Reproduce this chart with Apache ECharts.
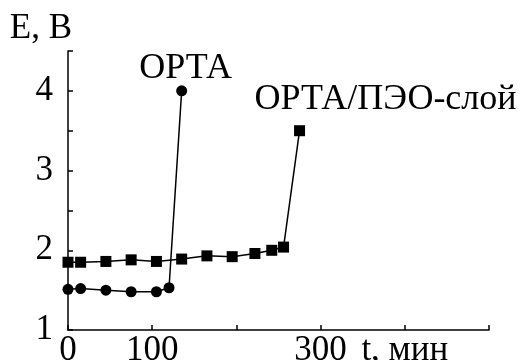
<!DOCTYPE html>
<html>
<head>
<meta charset="utf-8">
<script src="https://cdn.jsdelivr.net/npm/echarts@6/dist/echarts.min.js"></script>
<style>
  html, body { margin: 0; padding: 0; background: #fff; }
  #chart { width: 526px; height: 360px; }
</style>
</head>
<body>
<div id="chart"></div>
<script>
// Potential E (V) versus time t (min) for two electrodes
const ortaTime = [0, 15, 45, 75, 105, 120, 135];
const ortaE = [1.51, 1.52, 1.50, 1.48, 1.48, 1.53, 4.0];

const peoTime = [0, 15, 45, 75, 105, 135, 165, 195, 222, 242, 256, 275];
const peoE = [1.85, 1.85, 1.86, 1.88, 1.86, 1.89, 1.93, 1.92, 1.96, 2.0, 2.04, 3.5];

const xTickLabels = ['0', '100', '', '300', 't, мин', ''];
const yTickLabels = { 1: '1', 2: '2', 3: '3', 4: '4' };

const seriesNames = ['ОРТА', 'ОРТА/ПЭО-слой'];

const FONT = "'Liberation Serif', 'Times New Roman', serif";
const INK = '#000';

function pairs(xs, ys) {
  return xs.map((x, i) => [x, ys[i]]);
}

// put the series caption on the final (breakdown) point
function withEndLabel(data, text, offset) {
  const last = data.length - 1;
  return data.map((d, i) => i === last ? {
    value: d,
    label: {
      show: true,
      position: 'top',
      offset: offset,
      formatter: text,
      fontFamily: FONT,
      fontSize: 36,
      color: INK
    }
  } : d);
}

const chart = echarts.init(document.getElementById('chart'), null, { renderer: 'canvas' });

chart.setOption({
  animation: false,
  backgroundColor: '#fff',
  grid: {
    left: 68, right: 37, top: 51, bottom: 30,
    containLabel: false,
    outerBoundsMode: 'none'
  },
  xAxis: {
    type: 'value',
    min: 0,
    max: 500,
    interval: 100,
    axisLine: { lineStyle: { color: INK, width: 1.5 } },
    axisTick: { inside: true, length: 5, lineStyle: { color: INK, width: 1.5 } },
    splitLine: { show: false },
    axisLabel: {
      margin: 3,
      fontFamily: FONT,
      fontSize: 35,
      color: INK,
      showMaxLabel: true,
      formatter: (v) => xTickLabels[Math.round(v / 100)] ?? ''
    }
  },
  yAxis: {
    type: 'value',
    min: 1,
    max: 4.5,
    interval: 0.5,
    name: 'E, В',
    nameLocation: 'end',
    nameGap: 22,
    nameTextStyle: {
      fontFamily: FONT,
      fontSize: 35,
      color: INK,
      align: 'right',
      verticalAlign: 'middle',
      padding: [0, -4, 0, 0]
    },
    axisLine: { lineStyle: { color: INK, width: 1.5 } },
    axisTick: { inside: true, length: 5, lineStyle: { color: INK, width: 1.5 } },
    splitLine: { show: false },
    axisLabel: {
      margin: 15,
      fontFamily: FONT,
      fontSize: 35,
      color: INK,
      showMaxLabel: true,
      formatter: (v) => yTickLabels[v] ?? ''
    }
  },
  series: [
    {
      name: seriesNames[0],
      type: 'line',
      data: withEndLabel(pairs(ortaTime, ortaE), seriesNames[0], [4, 6]),
      symbol: 'circle',
      symbolSize: 11,
      itemStyle: { color: INK },
      lineStyle: { color: INK, width: 1.5 },
      z: 3
    },
    {
      name: seriesNames[1],
      type: 'line',
      data: withEndLabel(pairs(peoTime, peoE), seriesNames[1], [86, -3]),
      symbol: 'rect',
      symbolSize: 11,
      itemStyle: { color: INK },
      lineStyle: { color: INK, width: 1.5 },
      z: 2
    }
  ]
});
</script>
</body>
</html>
